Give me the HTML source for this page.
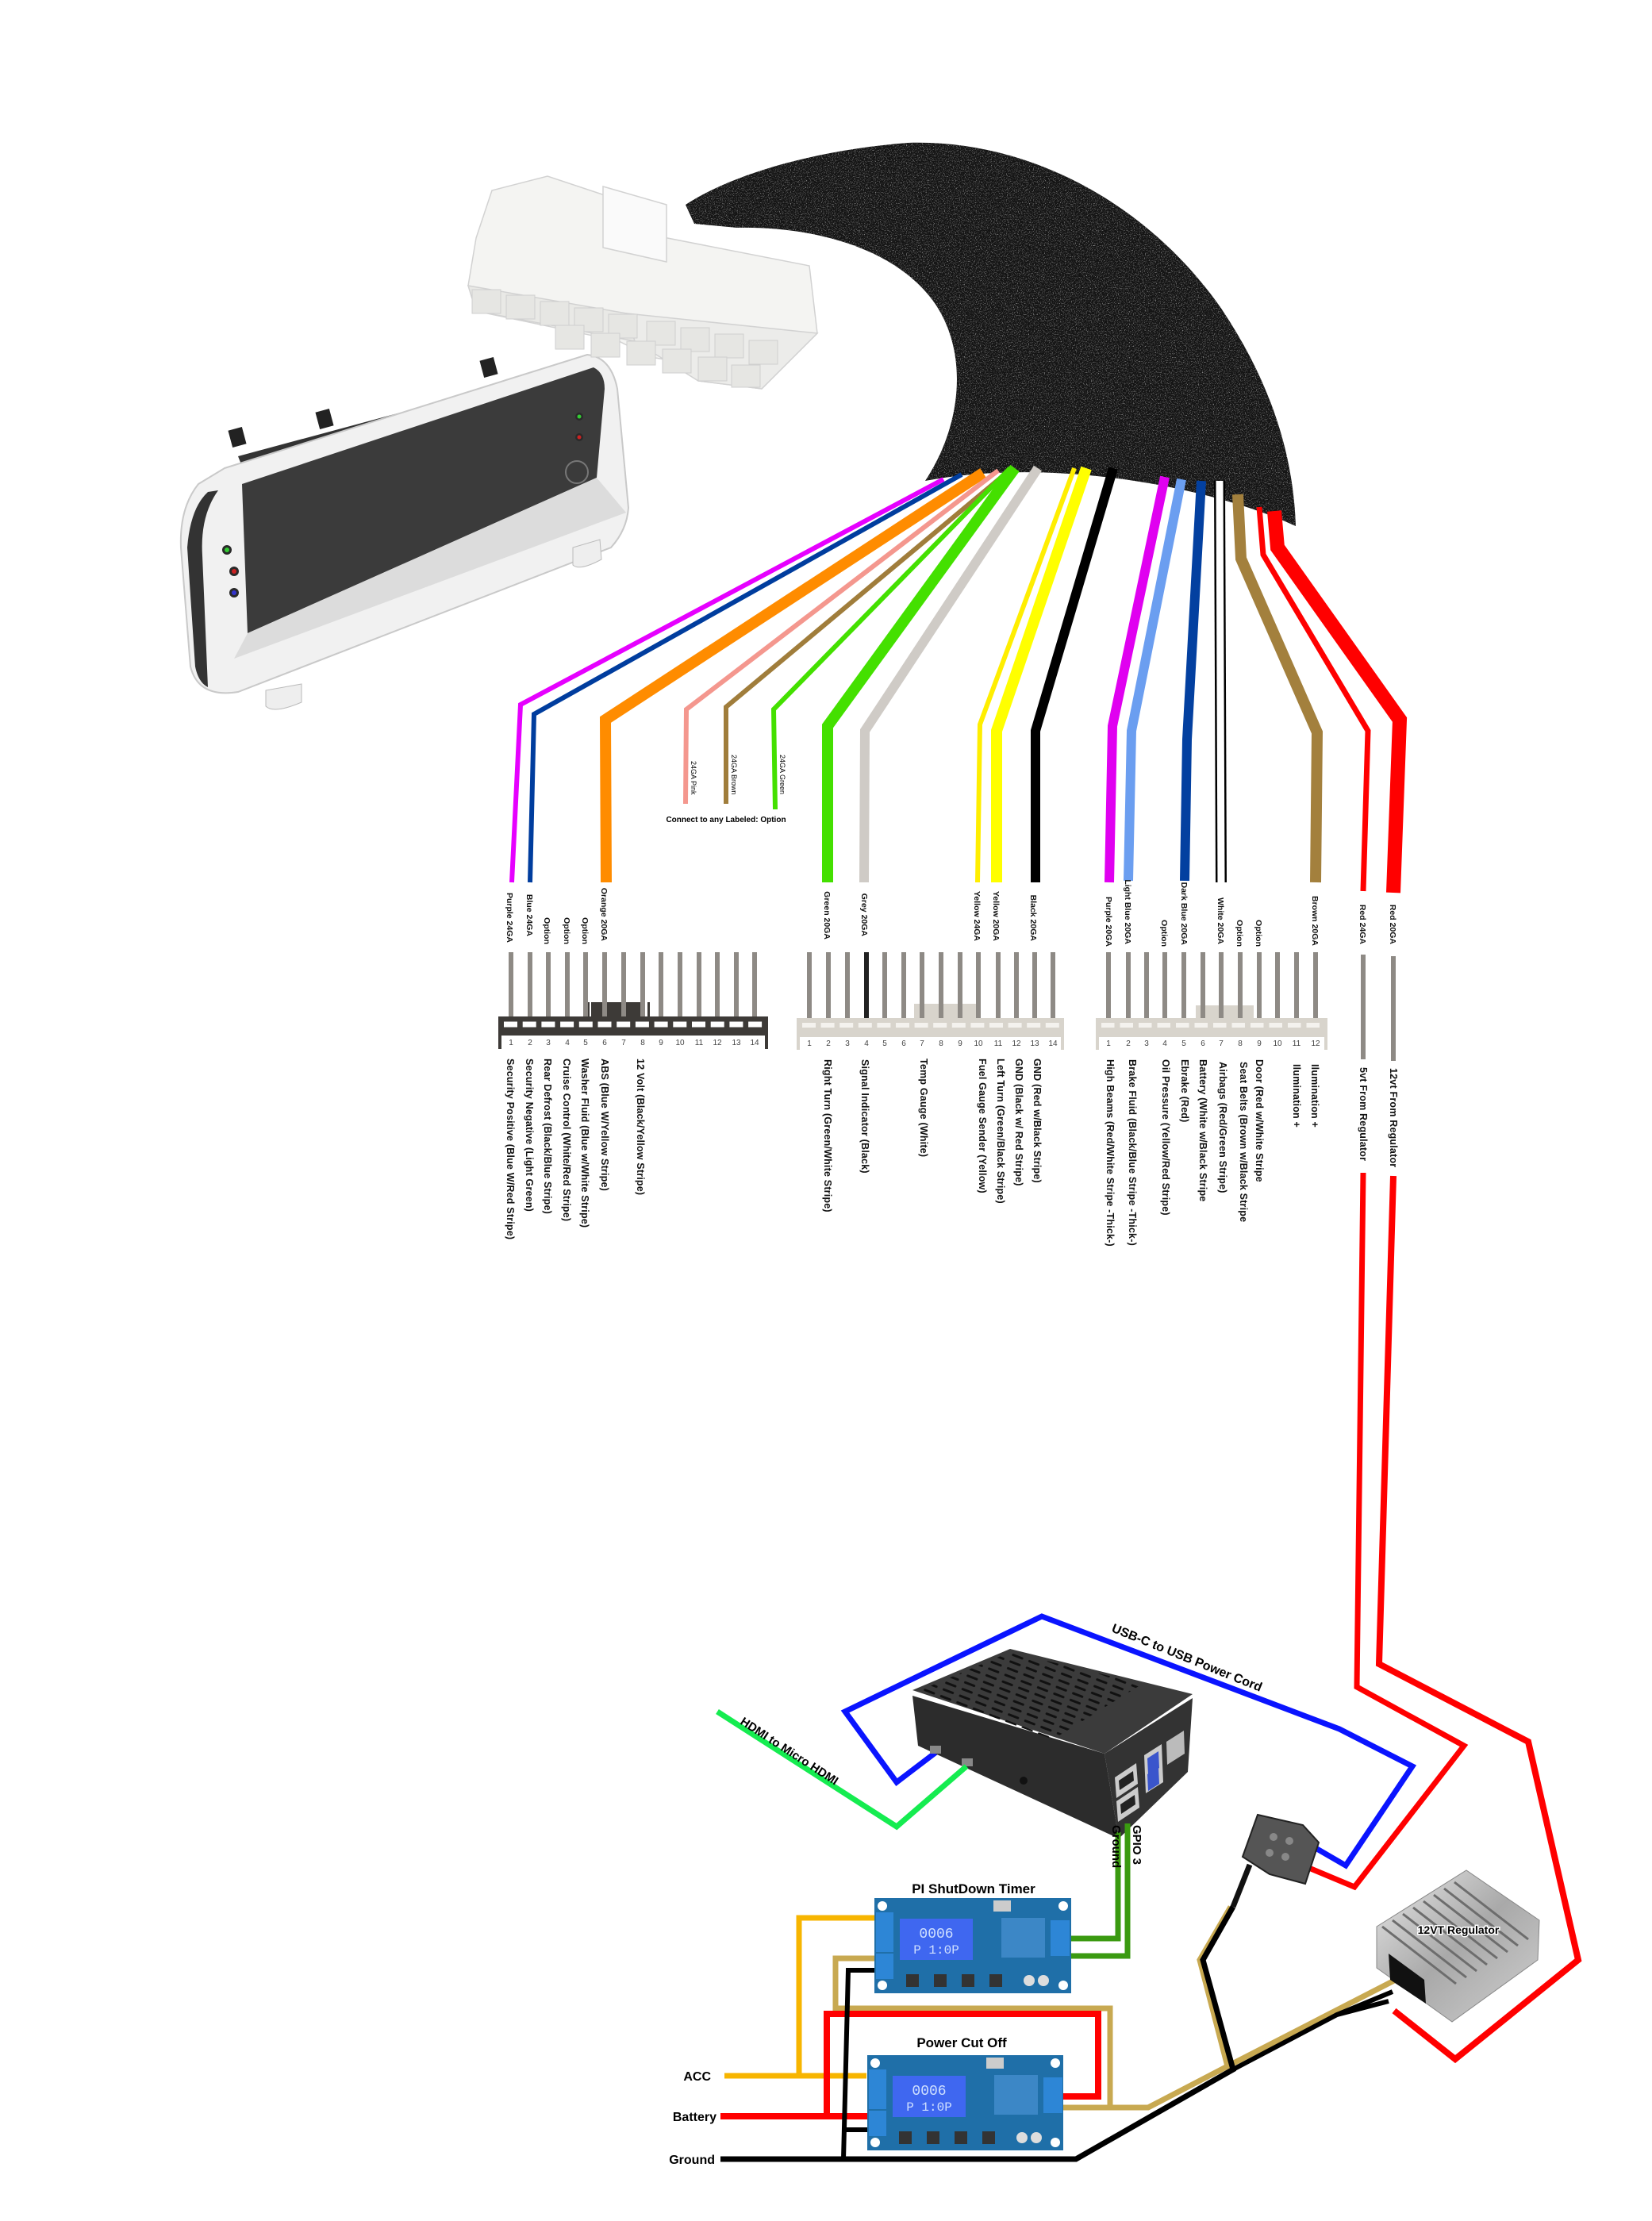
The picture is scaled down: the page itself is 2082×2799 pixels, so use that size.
<!DOCTYPE html>
<html><head><meta charset="utf-8"><style>
html,body{margin:0;padding:0;background:#fff}
svg{display:block}
text{font-family:"Liberation Sans",sans-serif}
.l{font-size:10.5px;font-weight:bold;fill:#111}
.b{font-size:12.5px;font-weight:bold;fill:#111;letter-spacing:0.2px}
.n{font-size:10px;fill:#444}
</style></head><body>
<svg width="2082" height="2799" viewBox="0 0 2082 2799" xmlns="http://www.w3.org/2000/svg">
<defs>
<filter id="noise" x="0" y="0" width="100%" height="100%">
<feTurbulence type="fractalNoise" baseFrequency="0.85" numOctaves="2" seed="3"/>
<feColorMatrix values="0 0 0 0 0.5  0 0 0 0 0.5  0 0 0 0 0.5  0 0 0 3.2 -1.75"/>
</filter>
<clipPath id="hc"><path d="M864,258 C930,215 1040,188 1144,180 C1300,175 1450,260 1540,390 C1600,480 1630,570 1633,663 C1530,615 1330,575 1166,606 C1210,540 1222,450 1180,385 C1130,310 1020,285 929,287 L875,282 Z"/></clipPath>
<pattern id="vent" width="22" height="9" patternUnits="userSpaceOnUse" patternTransform="rotate(21)"><rect x="2" y="3" width="15" height="3" rx="1.5" fill="#111"/></pattern>
<linearGradient id="silv" x1="0" y1="0" x2="1" y2="1"><stop offset="0" stop-color="#e8e8e8"/><stop offset="0.5" stop-color="#a9a9a9"/><stop offset="1" stop-color="#d0d0d0"/></linearGradient>
</defs>

<!-- Cluster -->
<g>
<path d="M300,575 L560,505 L700,460 L745,455 L740,470 L310,600 Z" fill="#333"/>
<rect x="290" y="540" width="18" height="22" fill="#222" transform="rotate(-15 299 551)"/>
<rect x="400" y="517" width="18" height="22" fill="#222" transform="rotate(-15 409 528)"/>
<rect x="607" y="452" width="18" height="22" fill="#222" transform="rotate(-15 616 463)"/>
<path d="M283,590 L740,447 Q770,450 778,490 L792,640 Q790,668 770,690 L300,872 Q250,880 240,840 L228,690 Q226,640 250,610 Z" fill="#f1f1f1" stroke="#c9c9c9" stroke-width="2"/>
<path d="M262,620 Q240,640 236,690 L246,840 Q250,860 262,866 L255,700 Q252,650 275,618 Z" fill="#333"/>
<path d="M305,610 L748,463 Q762,470 762,490 L752,602 L312,798 Z" fill="#3b3b3b"/>
<path d="M312,798 L752,602 L789,646 L295,830 Z" fill="#dcdcdc"/>
<circle cx="286" cy="693" r="6" fill="#2a2a2a"/><circle cx="286" cy="693" r="3" fill="#3c3"/>
<circle cx="295" cy="720" r="6" fill="#2a2a2a"/><circle cx="295" cy="720" r="3" fill="#c22"/>
<circle cx="295" cy="747" r="6" fill="#2a2a2a"/><circle cx="295" cy="747" r="3" fill="#33c"/>
<circle cx="730" cy="525" r="5" fill="#2a2a2a"/><circle cx="730" cy="525" r="2.5" fill="#3c3"/>
<circle cx="730" cy="551" r="5" fill="#2a2a2a"/><circle cx="730" cy="551" r="2.5" fill="#c22"/>
<circle cx="727" cy="595" r="14" fill="none" stroke="#777" stroke-width="2"/>
<path d="M335,870 L335,890 Q345,900 380,885 L380,862 Z" fill="#eee" stroke="#bbb"/>
<path d="M722,690 L722,712 Q730,720 758,705 L756,680 Z" fill="#eee" stroke="#bbb"/>
</g>

<!-- Molex connector -->
<g stroke="#d2d2d2" stroke-width="1.5">
<path d="M600,300 L620,240 L690,222 L780,252 L790,290 L1020,335 L1030,420 L960,490 L880,480 L880,460 L820,450 L780,430 L600,392 L590,360 Z" fill="#f4f4f2"/>
<path d="M600,392 L590,360 L790,395 L800,430 Z" fill="#e9e9e6"/>
<path d="M790,395 L1030,420 L960,490 L880,480 L800,430 Z" fill="#ececea"/>
<path d="M760,235 L840,258 L840,330 L760,312 Z" fill="#fafafa"/>
</g>
<g fill="#e6e6e3" stroke="#cfcfcf">
<rect x="595" y="365" width="36" height="30"/><rect x="638" y="372" width="36" height="30"/><rect x="681" y="380" width="36" height="30"/><rect x="724" y="388" width="36" height="30"/><rect x="767" y="396" width="36" height="30"/>
<rect x="815" y="405" width="36" height="30"/><rect x="858" y="413" width="36" height="30"/><rect x="901" y="421" width="36" height="30"/><rect x="944" y="429" width="36" height="30"/>
<rect x="700" y="410" width="36" height="30"/><rect x="745" y="420" width="36" height="30"/><rect x="790" y="430" width="36" height="30"/><rect x="835" y="440" width="36" height="30"/><rect x="880" y="450" width="36" height="30"/><rect x="922" y="460" width="36" height="28"/>
</g>

<!-- Harness -->
<path d="M864,258 C930,215 1040,188 1144,180 C1300,175 1450,260 1540,390 C1600,480 1630,570 1633,663 C1530,615 1330,575 1166,606 C1210,540 1222,450 1180,385 C1130,310 1020,285 929,287 L875,282 Z" fill="#141414"/>
<rect x="860" y="175" width="780" height="500" filter="url(#noise)" clip-path="url(#hc)"/>

<!-- Fan-out wires -->
<g fill="none" stroke-linejoin="miter">
<polyline points="1189,604 656,888 645,1112" stroke="#e600ff" stroke-width="6"/>
<polyline points="1212,598 673,900 668,1112" stroke="#003d9e" stroke-width="6"/>
<polyline points="1239,596 763,907 764,1112" stroke="#ff8c00" stroke-width="14"/>
<polyline points="1258,593 865,894 864,1013" stroke="#f4978e" stroke-width="6"/>
<polyline points="1266,598 915,891 915,1013" stroke="#a07d3b" stroke-width="6"/>
<polyline points="1273,590 975,894 977,1020" stroke="#44e000" stroke-width="6"/>
<polyline points="1279,590 1043,915 1043,1112" stroke="#44e000" stroke-width="14"/>
<polyline points="1308,590 1090,921 1089,1112" stroke="#cfcbc6" stroke-width="12"/>
<polyline points="1354,590 1235,913 1232,1112" stroke="#ffee00" stroke-width="6"/>
<polyline points="1369,590 1256,921 1256,1112" stroke="#ffff00" stroke-width="14"/>
<polyline points="1403,590 1305,921 1305,1112" stroke="#000" stroke-width="12"/>
<polyline points="1468,601 1402,915 1398,1112" stroke="#e000f0" stroke-width="12"/>
<polyline points="1489,604 1426,921 1422,1110" stroke="#6b9ef0" stroke-width="12"/>
<polyline points="1514,606 1496,932 1493,1110" stroke="#0340a0" stroke-width="12"/>
<polyline points="1537,606 1539,1112" stroke="#000" stroke-width="14"/>
<polyline points="1537,606 1539,1112" stroke="#fff" stroke-width="9"/>
<polyline points="1560,623 1564,704 1660,923 1658,1112" stroke="#a3803d" stroke-width="14"/>
<polyline points="1587,639 1592,699 1724,921 1718,1123" stroke="#ff0000" stroke-width="7"/>
<polyline points="1606,644 1610,690 1764,907 1756,1125" stroke="#ff0000" stroke-width="18"/>
</g>
<text transform="translate(871,959) rotate(90)" style="font-size:9px">24GA Pink</text>
<text transform="translate(922,951) rotate(90)" style="font-size:9px">24GA Brown</text>
<text transform="translate(983,951) rotate(90)" style="font-size:9px">24GA Green</text>
<text x="915" y="1036" text-anchor="middle" style="font-size:10px;font-weight:bold">Connect to any Labeled: Option</text>

<!-- Top labels -->
<g class="l" text-anchor="end">
<text transform="translate(639,1188) rotate(90)">Purple 24GA</text>
<text transform="translate(664,1180) rotate(90)">Blue 24GA</text>
<text transform="translate(686,1190) rotate(90)">Option</text>
<text transform="translate(711,1190) rotate(90)">Option</text>
<text transform="translate(734,1190) rotate(90)">Option</text>
<text transform="translate(758,1186) rotate(90)">Orange 20GA</text>
<text transform="translate(1039,1184) rotate(90)">Green 20GA</text>
<text transform="translate(1086,1180) rotate(90)">Grey 20GA</text>
<text transform="translate(1228,1186) rotate(90)">Yellow 24GA</text>
<text transform="translate(1252,1186) rotate(90)">Yellow 20GA</text>
<text transform="translate(1299,1186) rotate(90)">Black 20GA</text>
<text transform="translate(1394,1193) rotate(90)">Purple 20GA</text>
<text transform="translate(1418,1190) rotate(90)">Light Blue 20GA</text>
<text transform="translate(1464,1193) rotate(90)">Option</text>
<text transform="translate(1489,1191) rotate(90)">Dark Blue 20GA</text>
<text transform="translate(1535,1190) rotate(90)">White 20GA</text>
<text transform="translate(1559,1193) rotate(90)">Option</text>
<text transform="translate(1583,1193) rotate(90)">Option</text>
<text transform="translate(1654,1192) rotate(90)">Brown 20GA</text>
<text transform="translate(1714,1190) rotate(90)">Red 24GA</text>
<text transform="translate(1752,1190) rotate(90)">Red 20GA</text>
</g>

<!-- Connector 1 -->
<rect x="745" y="1263" width="68" height="18" fill="#3d3a37"/>
<rect x="740" y="1263" width="3" height="18" fill="#3d3a37"/><rect x="816" y="1263" width="3" height="18" fill="#3d3a37"/>
<g fill="#8e8a85">
<rect x="641" y="1200" width="6" height="86"/><rect x="665" y="1200" width="6" height="86"/><rect x="688" y="1200" width="6" height="86"/><rect x="712" y="1200" width="6" height="86"/><rect x="735" y="1200" width="6" height="86"/><rect x="759" y="1200" width="6" height="86"/><rect x="783" y="1200" width="6" height="86"/><rect x="807" y="1200" width="6" height="86"/><rect x="830" y="1200" width="6" height="86"/><rect x="854" y="1200" width="6" height="86"/><rect x="878" y="1200" width="6" height="86"/><rect x="901" y="1200" width="6" height="86"/><rect x="925" y="1200" width="6" height="86"/><rect x="948" y="1200" width="6" height="86"/>
</g>
<rect x="628" y="1281" width="340" height="24" fill="#3d3a37"/>
<line x1="632" y1="1291" x2="964" y2="1291" stroke="#fff" stroke-width="7" stroke-dasharray="17 6.7" stroke-dashoffset="-3"/>
<rect x="628" y="1305" width="4" height="17" fill="#3d3a37"/><rect x="964" y="1305" width="4" height="17" fill="#3d3a37"/>
<g class="n" text-anchor="middle">
<text x="644" y="1317">1</text><text x="668" y="1317">2</text><text x="691" y="1317">3</text><text x="715" y="1317">4</text><text x="738" y="1317">5</text><text x="762" y="1317">6</text><text x="786" y="1317">7</text><text x="810" y="1317">8</text><text x="833" y="1317">9</text><text x="857" y="1317">10</text><text x="881" y="1317">11</text><text x="904" y="1317">12</text><text x="928" y="1317">13</text><text x="951" y="1317">14</text>
</g>

<!-- Connector 2 -->
<rect x="1152" y="1265" width="80" height="18" fill="#d8d4cc"/>
<g fill="#8e8a85">
<rect x="1017" y="1200" width="6" height="86"/><rect x="1041" y="1200" width="6" height="86"/><rect x="1065" y="1200" width="6" height="86"/><rect x="1089" y="1200" width="6" height="86" fill="#222"/><rect x="1112" y="1200" width="6" height="86"/><rect x="1136" y="1200" width="6" height="86"/><rect x="1159" y="1200" width="6" height="86"/><rect x="1183" y="1200" width="6" height="86"/><rect x="1207" y="1200" width="6" height="86"/><rect x="1230" y="1200" width="6" height="86"/><rect x="1255" y="1200" width="6" height="86"/><rect x="1278" y="1200" width="6" height="86"/><rect x="1301" y="1200" width="6" height="86"/><rect x="1324" y="1200" width="6" height="86"/>
</g>
<rect x="1004" y="1283" width="337" height="24" fill="#d8d4cc"/>
<line x1="1008" y1="1292" x2="1337" y2="1292" stroke="#f4f2ee" stroke-width="6" stroke-dasharray="17 6.6" stroke-dashoffset="-3"/>
<rect x="1004" y="1307" width="4" height="16" fill="#d8d4cc"/><rect x="1337" y="1307" width="4" height="16" fill="#d8d4cc"/>
<g class="n" text-anchor="middle">
<text x="1020" y="1318">1</text><text x="1044" y="1318">2</text><text x="1068" y="1318">3</text><text x="1092" y="1318">4</text><text x="1115" y="1318">5</text><text x="1139" y="1318">6</text><text x="1162" y="1318">7</text><text x="1186" y="1318">8</text><text x="1210" y="1318">9</text><text x="1233" y="1318">10</text><text x="1258" y="1318">11</text><text x="1281" y="1318">12</text><text x="1304" y="1318">13</text><text x="1327" y="1318">14</text>
</g>

<!-- Connector 3 -->
<rect x="1507" y="1267" width="73" height="16" fill="#d8d4cc"/>
<g fill="#8e8a85">
<rect x="1394" y="1200" width="6" height="86"/><rect x="1419" y="1200" width="6" height="86"/><rect x="1442" y="1200" width="6" height="86"/><rect x="1465" y="1200" width="6" height="86"/><rect x="1489" y="1200" width="6" height="86"/><rect x="1513" y="1200" width="6" height="86"/><rect x="1536" y="1200" width="6" height="86"/><rect x="1560" y="1200" width="6" height="86"/><rect x="1584" y="1200" width="6" height="86"/><rect x="1607" y="1200" width="6" height="86"/><rect x="1631" y="1200" width="6" height="86"/><rect x="1655" y="1200" width="6" height="86"/>
<rect x="1715" y="1203" width="6" height="132"/><rect x="1753" y="1205" width="6" height="132"/>
</g>
<rect x="1381" y="1283" width="292" height="24" fill="#d8d4cc"/>
<line x1="1385" y1="1292" x2="1669" y2="1292" stroke="#f4f2ee" stroke-width="6" stroke-dasharray="16.5 7" stroke-dashoffset="-3"/>
<rect x="1381" y="1307" width="4" height="16" fill="#d8d4cc"/><rect x="1669" y="1307" width="4" height="16" fill="#d8d4cc"/>
<g class="n" text-anchor="middle">
<text x="1397" y="1318">1</text><text x="1422" y="1318">2</text><text x="1445" y="1318">3</text><text x="1468" y="1318">4</text><text x="1492" y="1318">5</text><text x="1516" y="1318">6</text><text x="1539" y="1318">7</text><text x="1563" y="1318">8</text><text x="1587" y="1318">9</text><text x="1610" y="1318">10</text><text x="1634" y="1318">11</text><text x="1658" y="1318">12</text>
</g>

<!-- Bottom labels -->
<g class="b">
<text transform="translate(639,1334) rotate(90)">Security Positive  (Blue W/Red Stripe)</text>
<text transform="translate(663,1334) rotate(90)">Security Negative  (Light Green)</text>
<text transform="translate(686,1334) rotate(90)">Rear Defrost (Black/Blue Stripe)</text>
<text transform="translate(710,1334) rotate(90)">Cruise Control (White/Red Stripe)</text>
<text transform="translate(733,1334) rotate(90)">Washer Fluid (Blue w/White Stripe)</text>
<text transform="translate(758,1334) rotate(90)">ABS (Blue W/Yellow Stripe)</text>
<text transform="translate(803,1334) rotate(90)">12 Volt (Black/Yellow Stripe)</text>
<text transform="translate(1039,1335) rotate(90)">Right Turn (Green/White Stripe)</text>
<text transform="translate(1086,1335) rotate(90)">Signal Indicator (Black)</text>
<text transform="translate(1160,1334) rotate(90)">Temp Gauge (White)</text>
<text transform="translate(1234,1334) rotate(90)">Fuel Gauge Sender (Yellow)</text>
<text transform="translate(1257,1334) rotate(90)">Left Turn (Green/Black Stripe)</text>
<text transform="translate(1280,1334) rotate(90)">GND (Black w/ Red Stripe)</text>
<text transform="translate(1303,1334) rotate(90)">GND (Red w/Black Stripe)</text>
<text transform="translate(1395,1335) rotate(90)">High Beams (Red/White Stripe -Thick-)</text>
<text transform="translate(1423,1335) rotate(90)">Brake Fluid (Black/Blue Stripe -Thick-)</text>
<text transform="translate(1465,1335) rotate(90)">Oil Pressure (Yellow/Red Stripe)</text>
<text transform="translate(1489,1335) rotate(90)">Ebrake (Red)</text>
<text transform="translate(1512,1335) rotate(90)">Battery (White w/Black Stripe</text>
<text transform="translate(1537,1338) rotate(90)">Airbags (Red/Green Stripe)</text>
<text transform="translate(1563,1338) rotate(90)">Seat Belts (Brown w/Black Stripe</text>
<text transform="translate(1583,1335) rotate(90)">Door (Red w/White Stripe</text>
<text transform="translate(1630,1341) rotate(90)">Ilumination +</text>
<text transform="translate(1653,1341) rotate(90)">Ilumination +</text>
<text transform="translate(1714,1345) rotate(90)">5vt From Regulator</text>
<text transform="translate(1752,1346) rotate(90)">12vt From Regulator</text>
</g>

<!-- Long red wires to bottom -->
<g fill="none" stroke="#ff0000" stroke-linejoin="miter">
<polyline points="1718,1478 1710,2126 1845,2200 1707,2378 1640,2350" stroke-width="7"/>
<polyline points="1756,1482 1738,2097 1926,2195 1989,2470 1834,2595 1757,2534" stroke-width="8"/>
</g>

<!-- Blue USB cable -->
<polyline points="1180,2208 1130,2246 1065,2157 1313,2037 1688,2179 1780,2226 1696,2351 1646,2322" fill="none" stroke="#0a14ff" stroke-width="7"/>
<text transform="translate(1400,2056) rotate(22)" style="font-size:16px;font-weight:bold">USB-C to USB Power Cord</text>

<!-- Pi case -->
<path d="M1150,2137 L1392,2210 L1410,2317 L1157,2200 Z" fill="#2c2c2c"/>
<path d="M1392,2210 L1503,2140 L1497,2233 L1410,2317 Z" fill="#333"/>
<path d="M1150,2130 L1273,2078 L1503,2135 L1392,2210 Z" fill="#3b3b3b"/>
<path d="M1160,2130 L1273,2082 L1440,2122 L1327,2192 Z" fill="url(#vent)"/>
<path d="M1405,2240 L1432,2222 L1434,2248 L1407,2266 Z" fill="#ccc"/>
<path d="M1410,2244 L1428,2232 L1429,2244 L1411,2256 Z" fill="#222"/>
<path d="M1407,2270 L1434,2252 L1436,2278 L1409,2296 Z" fill="#ccc"/>
<path d="M1412,2274 L1430,2262 L1431,2274 L1413,2286 Z" fill="#222"/>
<path d="M1442,2212 L1464,2198 L1466,2246 L1444,2260 Z" fill="#ccc"/>
<path d="M1446,2216 L1460,2207 L1461,2228 L1447,2237 Z" fill="#3a55cc"/>
<path d="M1446,2236 L1460,2227 L1461,2248 L1447,2257 Z" fill="#3a55cc"/>
<path d="M1470,2195 L1492,2181 L1493,2210 L1471,2224 Z" fill="#bbb"/>
<rect x="1172" y="2200" width="14" height="10" fill="#888"/>
<rect x="1212" y="2216" width="14" height="10" fill="#888"/>
<circle cx="1290" cy="2244" r="5" fill="#111"/>

<!-- HDMI green -->
<polyline points="904,2157 1130,2302 1218,2226" fill="none" stroke="#15ec50" stroke-width="7"/>
<text transform="translate(932,2172) rotate(33)" style="font-size:15px;font-weight:bold">HDMI to Micro HDMI</text>

<!-- GPIO wires -->
<polyline points="1409,2309 1409,2443 1348,2443" fill="none" stroke="#3a9a10" stroke-width="7"/>
<polyline points="1421,2298 1421,2465 1348,2465" fill="none" stroke="#3a9a10" stroke-width="7"/>
<text transform="translate(1428,2300) rotate(90)" style="font-size:15px;font-weight:bold">GPIO 3</text>
<text transform="translate(1402,2300) rotate(90)" style="font-size:15px;font-weight:bold">Ground</text>

<!-- Bottom wiring -->
<g fill="none" stroke-linejoin="miter">
<polyline points="1105,2417 1007,2417 1007,2616" stroke="#f7b500" stroke-width="7"/>
<polyline points="913,2616 1092,2616" stroke="#f7b500" stroke-width="7"/>
<polyline points="1105,2468 1053,2468 1053,2531 1399,2531 1399,2656" stroke="#c8a951" stroke-width="7"/>
<polyline points="1340,2656 1447,2656 1547,2604 1512,2470 1551,2403" stroke="#c8a951" stroke-width="7"/>
<polyline points="1547,2604 1757,2496" stroke="#c8a951" stroke-width="7"/>
<polyline points="908,2667 1095,2667" stroke="#ff0000" stroke-width="8"/>
<polyline points="1042,2667 1042,2538 1384,2538 1384,2642 1340,2642" stroke="#ff0000" stroke-width="8"/>
<polyline points="908,2721 1356,2721 1554,2608 1516,2470 1554,2403" stroke="#000" stroke-width="7"/>
<polyline points="1554,2608 1685,2539 1750,2522" stroke="#000" stroke-width="6"/>
<polyline points="1685,2539 1755,2510" stroke="#000" stroke-width="6"/>
<polyline points="1063,2721 1069,2483 1105,2483" stroke="#000" stroke-width="6"/>
<polyline points="1066,2684 1095,2684" stroke="#000" stroke-width="6"/>
</g>
<g style="font-size:16px;font-weight:bold" text-anchor="end">
<text x="896" y="2622">ACC</text>
<text x="903" y="2673">Battery</text>
<text x="901" y="2727">Ground</text>
</g>

<!-- Adapter -->
<path d="M1585,2287 L1642,2300 L1662,2322 L1645,2374 L1600,2362 L1566,2340 Z" fill="#555" stroke="#222" stroke-width="2"/>
<circle cx="1605" cy="2315" r="5" fill="#888"/><circle cx="1625" cy="2320" r="5" fill="#888"/><circle cx="1600" cy="2335" r="5" fill="#888"/><circle cx="1620" cy="2340" r="5" fill="#888"/>
<polyline points="1575,2350 1554,2403" stroke="#111" stroke-width="7"/>

<!-- Regulator -->
<path d="M1735,2428 L1848,2357 L1940,2420 L1938,2470 L1830,2548 L1735,2480 Z" fill="url(#silv)" stroke="#888"/>
<g stroke="#6d6d6d" stroke-width="3">
<line x1="1742" y1="2428" x2="1835" y2="2500"/><line x1="1755" y1="2420" x2="1848" y2="2492"/><line x1="1768" y1="2412" x2="1861" y2="2484"/><line x1="1781" y1="2404" x2="1874" y2="2476"/><line x1="1794" y1="2396" x2="1887" y2="2468"/><line x1="1807" y1="2388" x2="1900" y2="2460"/><line x1="1820" y1="2380" x2="1913" y2="2452"/><line x1="1833" y1="2372" x2="1926" y2="2444"/>
</g>
<path d="M1750,2462 L1795,2495 L1797,2525 L1752,2495 Z" fill="#111"/>
<text x="1838" y="2437" text-anchor="middle" style="font-size:14px;font-weight:bold;paint-order:stroke" stroke="#fff" stroke-width="3">12VT Regulator</text>

<!-- PI ShutDown Timer board -->
<text x="1227" y="2386" text-anchor="middle" style="font-size:17px;font-weight:bold">PI ShutDown Timer</text>
<g transform="translate(1102,2392)">
<rect width="248" height="120" fill="#1f6fa8"/>
<circle cx="10" cy="10" r="6" fill="#fff"/><circle cx="238" cy="10" r="6" fill="#fff"/><circle cx="10" cy="110" r="6" fill="#fff"/><circle cx="238" cy="110" r="6" fill="#fff"/>
<rect x="2" y="18" width="22" height="50" fill="#2d86d6"/><rect x="2" y="70" width="22" height="32" fill="#2d86d6"/>
<rect x="32" y="26" width="92" height="52" fill="#3f67f0"/>
<text x="78" y="50" text-anchor="middle" fill="#cfe0ff" style="font-size:18px;font-family:'Liberation Mono',monospace">0006</text>
<text x="78" y="70" text-anchor="middle" fill="#cfe0ff" style="font-size:16px;font-family:'Liberation Mono',monospace">P 1:0P</text>
<rect x="160" y="25" width="55" height="50" fill="#3c87c6"/>
<rect x="222" y="28" width="24" height="45" fill="#2d86d6"/>
<rect x="150" y="3" width="22" height="14" fill="#ccc"/>
<rect x="40" y="96" width="16" height="16" fill="#333"/><rect x="75" y="96" width="16" height="16" fill="#333"/><rect x="110" y="96" width="16" height="16" fill="#333"/><rect x="145" y="96" width="16" height="16" fill="#333"/>
<circle cx="195" cy="104" r="7" fill="#ddd"/><circle cx="213" cy="104" r="7" fill="#ddd"/>
</g>

<!-- Power Cut Off board -->
<text x="1212" y="2580" text-anchor="middle" style="font-size:17px;font-weight:bold">Power Cut Off</text>
<g transform="translate(1093,2590)">
<rect width="247" height="120" fill="#1f6fa8"/>
<circle cx="10" cy="10" r="6" fill="#fff"/><circle cx="237" cy="10" r="6" fill="#fff"/><circle cx="10" cy="110" r="6" fill="#fff"/><circle cx="237" cy="110" r="6" fill="#fff"/>
<rect x="2" y="18" width="22" height="50" fill="#2d86d6"/><rect x="2" y="70" width="22" height="32" fill="#2d86d6"/>
<rect x="32" y="26" width="92" height="52" fill="#3f67f0"/>
<text x="78" y="50" text-anchor="middle" fill="#cfe0ff" style="font-size:18px;font-family:'Liberation Mono',monospace">0006</text>
<text x="78" y="70" text-anchor="middle" fill="#cfe0ff" style="font-size:16px;font-family:'Liberation Mono',monospace">P 1:0P</text>
<rect x="160" y="25" width="55" height="50" fill="#3c87c6"/>
<rect x="222" y="28" width="24" height="45" fill="#2d86d6"/>
<rect x="150" y="3" width="22" height="14" fill="#ccc"/>
<rect x="40" y="96" width="16" height="16" fill="#333"/><rect x="75" y="96" width="16" height="16" fill="#333"/><rect x="110" y="96" width="16" height="16" fill="#333"/><rect x="145" y="96" width="16" height="16" fill="#333"/>
<circle cx="195" cy="104" r="7" fill="#ddd"/><circle cx="213" cy="104" r="7" fill="#ddd"/>
</g>
</svg>
</body></html>
